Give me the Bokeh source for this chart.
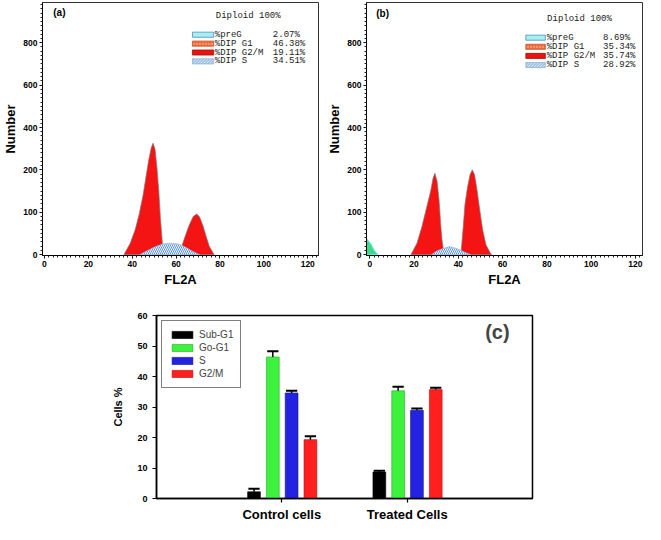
import numpy as np
from bokeh.plotting import figure
from bokeh.layouts import column, row
from bokeh.models import FixedTicker, Label, ColumnDataSource, Range1d
from bokeh.embed import file_html
from bokeh.resources import INLINE
from bokeh.core.properties import value

# ---------------- data: flow-cytometry histograms ----------------
# The "Number" axis prints six equally spaced labels
Y_TICK_LABELS = [0, 100, 200, 400, 600, 800]
X_TICKS = [0, 20, 40, 60, 80, 100, 120]

# panel (a) control cells: outlines (FL2A, Number)
a_g1_x = [36.2, 39.1, 41.3, 43.2, 45.0, 46.4, 47.6, 48.7, 49.5, 50.4, 51.3, 52.1, 52.8, 53.5, 54.1]
a_g1_y = [0, 27, 58, 96, 142, 188, 252, 306, 326, 298, 206, 150, 89, 43, 0]
a_g2_x = [61.8, 62.6, 64.1, 65.9, 67.8, 69.4, 70.7, 72.2, 73.7, 75.1, 77.3]
a_g2_y = [0, 20, 43, 69, 90, 96, 89, 69, 43, 20, 0]
a_s_x = [43.5, 46.4, 50.2, 53.8, 57.5, 61.2, 64.8, 67.8, 70.7]
a_s_y = [0, 8, 18, 25, 27, 25, 16, 7, 0]

# panel (b) treated cells
b_pre_x = [-1.5, -1.5, 0.5, 2.0, 3.7]
b_pre_y = [0, 38, 25, 10, 0]
b_g1_x = [18.6, 21.3, 23.5, 25.7, 27.5, 28.6, 29.4, 30.4, 31.3, 32.0, 32.6, 33.3, 33.8]
b_g1_y = [0, 27, 65, 112, 150, 181, 192, 173, 127, 73, 35, 10, 0]
b_g2_x = [41.1, 41.6, 42.2, 43.0, 44.1, 45.3, 46.3, 47.3, 48.5, 49.7, 51.0, 52.5, 54.4, 55.1]
b_g2_y = [0, 27, 65, 119, 158, 189, 200, 189, 150, 104, 58, 23, 4, 0]
b_s_x = [27.9, 30.1, 32.3, 36.0, 39.6, 42.6, 45.6]
b_s_y = [0, 8, 13, 19, 14, 6, 0]

legend_names = ["%preG", "%DIP G1", "%DIP G2/M", "%DIP S"]
a_pct = ["2.07%", "46.38%", "19.11%", "34.51%"]
b_pct = ["8.69%", "35.34%", "35.74%", "28.92%"]
header_text = "Diploid 100%"

# ---------------- data: bar chart (c) ----------------
groups = ["Control cells", "Treated Cells"]
phases = ["Sub-G1", "Go-G1", "S", "G2/M"]
sub_g1 = [2.2, 8.7]
sub_g1_err = [1.0, 0.4]
go_g1 = [46.4, 35.3]
go_g1_err = [1.9, 1.3]
s_phase = [34.6, 28.9]
s_phase_err = [0.7, 0.6]
g2m = [19.3, 35.7]
g2m_err = [1.1, 0.6]

FONT = "Liberation Sans"
MONO = "Liberation Mono"
RED = "#f41414"
POS = [0, 100, 200, 300, 400, 500]  # equally spaced positions of the printed labels


def ypos(vals):
    return list(np.interp(vals, Y_TICK_LABELS, POS))


def hist_fig(width, left, right, x0, x1):
    p = figure(width=width, height=292, x_range=Range1d(x0, x1), y_range=Range1d(-2, 595),
               output_backend="svg", toolbar_location=None,
               min_border_left=left, min_border_right=right,
               min_border_top=2, min_border_bottom=37)
    p.grid.visible = False
    p.background_fill_color = "white"
    p.outline_line_color = "#333333"
    p.outline_line_width = 1
    p.xaxis.ticker = FixedTicker(ticks=X_TICKS, minor_ticks=list(range(-2, 126, 2)))
    p.yaxis.ticker = FixedTicker(ticks=POS, minor_ticks=list(range(0, 600, 10)))
    p.yaxis.major_label_overrides = {pp: str(l) for pp, l in zip(POS, Y_TICK_LABELS)}
    for ax in (p.xaxis[0], p.yaxis[0]):
        ax.major_label_text_font = FONT
        ax.major_label_text_font_style = "bold"
        ax.major_label_text_font_size = "8.5px"
        ax.major_label_text_color = "black"
        ax.axis_label_text_font = FONT
        ax.axis_label_text_font_style = "bold"
        ax.axis_label_text_font_size = "13px"
        ax.axis_label_text_color = "black"
        ax.major_tick_out = 3
        ax.major_tick_in = 0
        ax.minor_tick_out = 2
        ax.minor_tick_in = 0
        ax.major_label_standoff = 2
        ax.axis_label_standoff = 2
        ax.axis_line_color = "black"
        ax.major_tick_line_color = "black"
        ax.minor_tick_line_color = "#222222"
    p.xaxis.axis_label = "FL2A"
    p.yaxis.axis_label = "Number"
    return p


def draw_hist(p, parts):
    for xs, ys, kind in parts:
        if kind == "pre":
            p.patch(xs, ypos(ys), fill_color="#3fd98a", line_color="#66e6e6", line_width=1)
        elif kind == "red":
            p.patch(xs, ypos(ys), fill_color=RED, line_color="#8a7070", line_width=0.7)
        else:
            p.patch(xs, ypos(ys), fill_color="#f4f8ff", line_color="#9ab8d8", line_width=0.7,
                    hatch_pattern="\\", hatch_color="#4a8ad0", hatch_scale=4, hatch_weight=0.9)


def draw_key(p, sw_x, sw_w, lab_x, val_x, head_x, head_y, row0, step, pct, tag, tag_x, tag_y):
    rows = [row0 - step * i for i in range(len(legend_names))]
    src = ColumnDataSource(dict(
        x=[sw_x] * 4, y=rows,
        fill=["#a8f0f0", "#f06a3a", "#e8140e", "#ffffff"],
        line=["#4a8ac8", "#c05030", "#a01010", "#8ab4d8"],
        hatch=[" ", "dot", " ", "\\"],
        hcol=["#ffffff", "#ffd0b0", "#ffffff", "#6a9ad0"],
    ))
    p.rect(x="x", y="y", width=sw_w, height=12, source=src, fill_color="fill",
           line_color="line", line_width=0.8, hatch_pattern="hatch", hatch_color="hcol",
           hatch_scale=3, hatch_weight=0.8)
    p.text(x=[lab_x] * 4, y=rows, text=legend_names, text_font=value(MONO),
           text_font_size="9px", text_color="#222222", text_baseline="middle")
    p.text(x=[val_x] * 4, y=rows, text=pct, text_font=value(MONO),
           text_font_size="9px", text_color="#222222", text_baseline="middle")
    p.add_layout(Label(x=head_x, y=head_y, text=header_text, text_font=MONO,
                       text_font_size="9px", text_color="#222222", text_baseline="middle"))
    p.add_layout(Label(x=tag_x, y=tag_y, text=tag, text_font=FONT, text_font_style="bold",
                       text_font_size="10px", text_color="black", text_baseline="middle"))


pa = hist_fig(322, 40, 4, -0.9, 124.9)
draw_hist(pa, [(a_g1_x, a_g1_y, "red"), (a_g2_x, a_g2_y, "red"), (a_s_x, a_s_y, "s")])
draw_key(pa, 72.3, 9.7, 77.6, 104.1, 78.1, 562, 519, 21, a_pct, "(a)", 4.0, 572)

pb = hist_fig(323, 44, 3, -1.5, 123.2)
draw_hist(pb, [(b_pre_x, b_pre_y, "pre"), (b_g1_x, b_g1_y, "red"), (b_g2_x, b_g2_y, "red"),
               (b_s_x, b_s_y, "s")])
draw_key(pb, 74.9, 8.8, 79.9, 105.4, 80.1, 555, 512, 21.5, b_pct, "(b)", 2.9, 569)

# ---------------- bar chart ----------------
pc = figure(width=645, height=232, x_range=Range1d(0, 3), y_range=Range1d(0, 60),
            output_backend="svg", toolbar_location=None,
            min_border_left=156, min_border_right=113, min_border_top=23, min_border_bottom=23)
pc.grid.visible = False
pc.outline_line_color = "black"
pc.outline_line_width = 1.5
cats = [1, 2]
offsets = [-0.222, -0.072, 0.078, 0.228]
series = [sub_g1, go_g1, s_phase, g2m]
errors = [sub_g1_err, go_g1_err, s_phase_err, g2m_err]
colors = ["#000000", "#3cf23c", "#2222e0", "#ff1f1f"]
edges = ["#000000", "#2aa82a", "#15158a", "#b01010"]
for name, vals, err, col, edge, off in zip(phases, series, errors, colors, edges, offsets):
    xs = [c + off for c in cats]
    pc.vbar(x=xs, top=vals, width=0.102, fill_color=col, line_color=edge, line_width=0.6,
            legend_label=name)
    tops = [v + e for v, e in zip(vals, err)]
    pc.segment(x0=xs, y0=vals, x1=xs, y1=tops, line_color="black", line_width=1.5)
    pc.segment(x0=[x - 0.045 for x in xs], y0=tops, x1=[x + 0.045 for x in xs], y1=tops,
               line_color="black", line_width=2)

pc.xaxis.ticker = FixedTicker(ticks=cats, minor_ticks=[])
pc.xaxis.major_label_overrides = {c: g for c, g in zip(cats, groups)}
pc.yaxis.ticker = FixedTicker(ticks=list(range(0, 61, 10)), minor_ticks=[])
for ax in (pc.xaxis[0], pc.yaxis[0]):
    ax.major_label_text_font = FONT
    ax.major_label_text_font_style = "bold"
    ax.major_label_text_color = "black"
    ax.axis_label_text_font = FONT
    ax.axis_label_text_font_style = "bold"
    ax.axis_label_text_color = "black"
    ax.major_tick_out = 4
    ax.major_tick_in = 0
    ax.axis_line_width = 1.5
    ax.major_tick_line_width = 1.2
pc.xaxis.major_label_text_font_size = "13px"
pc.xaxis.major_label_standoff = 4
pc.yaxis.major_label_text_font_size = "9px"
pc.yaxis.major_label_standoff = 5
pc.yaxis.axis_label = "Cells %"
pc.yaxis.axis_label_text_font_size = "11px"
pc.yaxis.axis_label_standoff = 10

lg = pc.legend[0]
lg.location = "top_left"
lg.margin = 5
lg.padding = 7
lg.spacing = 0
lg.label_height = 13
lg.glyph_height = 9
lg.glyph_width = 26
lg.label_standoff = 4
lg.label_text_font = FONT
lg.label_text_font_size = "10px"
lg.border_line_color = "black"
lg.border_line_width = 1
lg.background_fill_alpha = 1

pc.add_layout(Label(x=2.72, y=54.5, text="(c)", text_font=FONT, text_font_style="bold",
                    text_font_size="20px", text_align="center", text_baseline="middle"))

layout = column(row(pa, pb), pc)
open("out.html", "w").write(file_html(layout, INLINE))
